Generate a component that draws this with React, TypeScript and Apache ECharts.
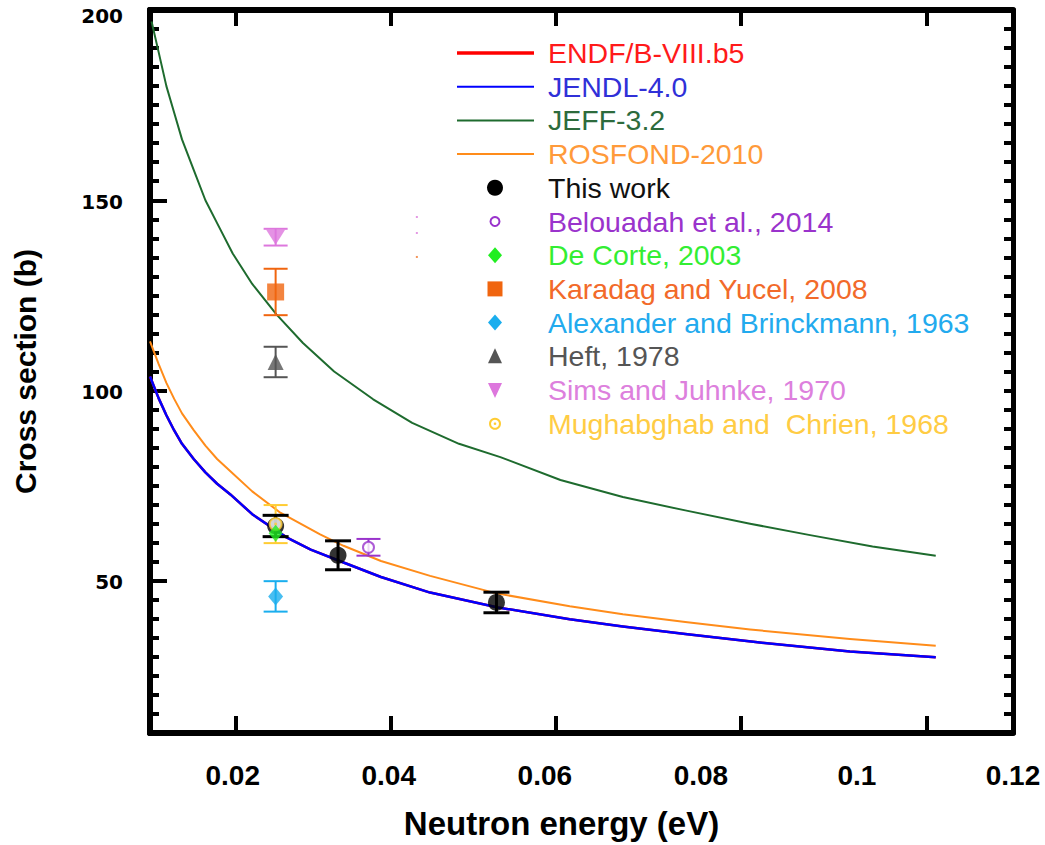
import React, { useEffect, useRef } from "react";
import * as echarts from "echarts";

// ---------- axis values ----------
const xMin = 0.0094;
const xMax = 0.12;
const yMin = 10;
const yMax = 200;
const xLabelValues = [0.02, 0.04, 0.06, 0.08, 0.1, 0.12];
const xTickValues = [0.0204, 0.0402, 0.0614, 0.0851, 0.1089];
const yLabelValues = [50, 100, 150, 200];
const yMajorTickValues = [50, 100, 150];

// ---------- evaluated libraries (curves) ----------
const endfEnergy = [0.0094, 0.0105, 0.0115, 0.0125, 0.0135, 0.015, 0.0165, 0.018, 0.0197, 0.0225, 0.0269, 0.03, 0.0342, 0.039, 0.0453, 0.054, 0.0632, 0.07, 0.078, 0.087, 0.0991, 0.1101];
const endfSigma = [103.7, 98, 93.5, 89.5, 86, 82, 78.5, 75.5, 72.7, 67.5, 61.4, 58.2, 54.8, 51, 46.9, 43.0, 39.9, 38, 36, 33.9, 31.4, 29.9];

const jendlEnergy = [0.0094, 0.0105, 0.0115, 0.0125, 0.0135, 0.015, 0.0165, 0.018, 0.0197, 0.0225, 0.0269, 0.03, 0.0342, 0.039, 0.0453, 0.054, 0.0632, 0.07, 0.078, 0.087, 0.0991, 0.1101];
const jendlSigma = [103.7, 98, 93.5, 89.5, 86, 82, 78.5, 75.5, 72.7, 67.5, 61.4, 58.2, 54.8, 51, 46.9, 43.0, 39.9, 38, 36, 33.9, 31.4, 29.9];

const jeffEnergy = [0.0096, 0.0105, 0.0115, 0.0125, 0.0135, 0.015, 0.0165, 0.018, 0.02, 0.0225, 0.0256, 0.029, 0.033, 0.038, 0.043, 0.049, 0.0543, 0.062, 0.07, 0.078, 0.0863, 0.094, 0.102, 0.1101];
const jeffSigma = [197, 189, 180, 173, 166, 158, 150, 144, 136, 128, 120, 112.5, 105, 97.7, 91.5, 86, 82.5, 76.5, 72, 68.5, 65, 62, 59, 56.6];

const rosfondEnergy = [0.0094, 0.0105, 0.0115, 0.0125, 0.0135, 0.015, 0.0165, 0.018, 0.0197, 0.0225, 0.0261, 0.0312, 0.0342, 0.039, 0.0453, 0.0538, 0.0632, 0.07, 0.078, 0.0863, 0.0991, 0.1101];
const rosfondSigma = [112.9, 107, 102, 97.8, 94, 89.6, 85.5, 82, 78.8, 73.5, 67.9, 62.2, 59.2, 55.2, 51.3, 46.7, 43.3, 41.2, 39.2, 37.2, 34.7, 32.9];

// ---------- measurements ----------
const thisWorkEnergy = [0.0255, 0.0335, 0.0538];
const thisWorkSigma = [64.4, 56.7, 44.3];
const thisWorkErr = [2.8, 3.8, 2.7];

const belouadahEnergy = [0.0374];
const belouadahSigma = [58.8];
const belouadahErr = [2.2];

const deCorteEnergy = [0.0255];
const deCorteSigma = [62.5];

const karadagEnergy = [0.0255];
const karadagSigma = [125.9];
const karadagErr = [6.1];

const alexanderEnergy = [0.0255];
const alexanderSigma = [45.9];
const alexanderErr = [4.0];

const heftEnergy = [0.0255];
const heftSigma = [107.5];
const heftErr = [4.0];

const simsEnergy = [0.0255];
const simsSigma = [140.3];
const simsErr = [2.2];

const mughEnergy = [0.0255];
const mughSigma = [64.9];
const mughErr = [5.0];

// stray dots visible in the figure
const strayEnergy = [0.0436, 0.0436, 0.0436];
const straySigma = [145.6, 141.4, 135.1];
const strayColors = ["#dd80dd", "#dd80dd", "#f07a30"];

// ---------- legend ----------
const legendNames = [
  "ENDF/B-VIII.b5",
  "JENDL-4.0",
  "JEFF-3.2",
  "ROSFOND-2010",
  "This work",
  "Belouadah et al., 2014",
  "De Corte, 2003",
  "Karadag and Yucel, 2008",
  "Alexander and Brinckmann, 1963",
  "Heft, 1978",
  "Sims and Juhnke, 1970",
  "Mughabghab and  Chrien, 1968",
];
const legendTextColors = [
  "#ff1a1a", "#3030d8", "#2d6b3c", "#ff9a3a", "#111111", "#9a33cc",
  "#33ee33", "#f26a2a", "#22aaee", "#555555", "#dd80dd", "#ffcc44",
];
const legendKinds = [
  "line", "line", "line", "line", "dot", "ring",
  "diamond", "square", "diamond", "triangle", "invtriangle", "ringdot",
];

const C = {
  endf: "#ff0000",
  jendl: "#0000ff",
  jeff: "#1e6b2e",
  rosfond: "#ff8c1a",
  thisWork: "#000000",
  belouadah: "#9933cc",
  deCorte: "#22ee22",
  karadag: "#f0650f",
  alexander: "#1aaeee",
  heft: "#555555",
  sims: "#dd77dd",
  mugh: "#ffcc33",
};
const legendLineColors = [C.endf, C.jendl, C.jeff, C.rosfond];
const legendLineWidths = [3.5, 2, 2, 2];
const legendSymbolColors = [
  "", "", "", "", C.thisWork, C.belouadah, C.deCorte, C.karadag, C.alexander, C.heft, C.sims, C.mugh,
];

const zip = (a: number[], b: number[]) => a.map((v, i) => [v, b[i]]);
const zipErr = (a: number[], s: number[], e: number[]) => a.map((v, i) => [v, s[i] - e[i], s[i] + e[i]]);

function lineSeries(name: string, e: number[], s: number[], color: string, width: number) {
  return {
    name,
    type: "line",
    data: zip(e, s),
    xAxisIndex: 0,
    yAxisIndex: 0,
    symbol: "none",
    smooth: false,
    lineStyle: { color, width, join: "round" },
    z: 2,
  };
}

function errorSeries(name: string, e: number[], s: number[], err: number[], color: string, width: number, half: number) {
  return {
    name: name + " err",
    type: "custom",
    xAxisIndex: 0,
    yAxisIndex: 0,
    data: zipErr(e, s, err),
    encode: { x: 0, y: [1, 2] },
    z: 3,
    renderItem: (params: any, api: any) => {
      const x = api.value(0);
      const lo = api.coord([x, api.value(1)]);
      const hi = api.coord([x, api.value(2)]);
      const style = { stroke: color, lineWidth: width, fill: "none" };
      return {
        type: "group",
        children: [
          { type: "line", shape: { x1: lo[0], y1: lo[1], x2: hi[0], y2: hi[1] }, style },
          { type: "line", shape: { x1: lo[0] - half, y1: lo[1], x2: lo[0] + half, y2: lo[1] }, style },
          { type: "line", shape: { x1: hi[0] - half, y1: hi[1], x2: hi[0] + half, y2: hi[1] }, style },
        ],
      };
    },
  };
}

function scatterSeries(name: string, e: number[], s: number[], symbol: string, size: any, itemStyle: any, z = 4) {
  return {
    name,
    type: "scatter",
    xAxisIndex: 0,
    yAxisIndex: 0,
    data: zip(e, s),
    symbol,
    symbolSize: size,
    itemStyle,
    z,
  };
}

function buildLegend() {
  const y0 = 53;
  const gap = 33.7;
  const lineX1 = 457;
  const lineX2 = 534;
  const symX = 495;
  const textX = 548;
  const els: any[] = [];
  legendNames.forEach((name, i) => {
    const y = y0 + i * gap;
    const kind = legendKinds[i];
    const col = legendSymbolColors[i];
    if (kind === "line") {
      els.push({
        type: "line",
        shape: { x1: lineX1, y1: y, x2: lineX2, y2: y },
        style: { stroke: legendLineColors[i], lineWidth: legendLineWidths[i] },
      });
    } else if (kind === "dot") {
      els.push({ type: "circle", shape: { cx: symX, cy: y, r: 8 }, style: { fill: col } });
    } else if (kind === "ring") {
      els.push({ type: "circle", shape: { cx: symX, cy: y, r: 4.5 }, style: { fill: "#fff", stroke: col, lineWidth: 2 } });
    } else if (kind === "ringdot") {
      els.push({ type: "circle", shape: { cx: symX, cy: y, r: 5 }, style: { fill: "#fff", stroke: col, lineWidth: 2 } });
      els.push({ type: "circle", shape: { cx: symX, cy: y, r: 1.3 }, style: { fill: col } });
    } else if (kind === "diamond") {
      els.push({
        type: "polygon",
        shape: { points: [[symX, y - 8], [symX + 7, y], [symX, y + 8], [symX - 7, y]] },
        style: { fill: col },
      });
    } else if (kind === "square") {
      els.push({ type: "rect", shape: { x: symX - 7.5, y: y - 7.5, width: 15, height: 15 }, style: { fill: col } });
    } else if (kind === "triangle") {
      els.push({
        type: "polygon",
        shape: { points: [[symX, y - 8], [symX + 7, y + 7], [symX - 7, y + 7]] },
        style: { fill: col },
      });
    } else if (kind === "invtriangle") {
      els.push({
        type: "polygon",
        shape: { points: [[symX - 7, y - 7], [symX + 7, y - 7], [symX, y + 8]] },
        style: { fill: col },
      });
    }
    els.push({
      type: "text",
      x: textX,
      y,
      style: {
        text: name,
        fill: legendTextColors[i],
        fontSize: 28.5,
        fontFamily: "'Liberation Sans', Arial, sans-serif",
        verticalAlign: "middle",
        align: "left",
      },
    });
  });
  return els;
}

export default function App() {
  const ref = useRef<HTMLDivElement>(null);

  useEffect(() => {
    if (!ref.current) return;
    const chart = echarts.init(ref.current, null, { renderer: "svg" });

    const frame = { show: true, onZero: false, lineStyle: { color: "#000", width: 6 } };
    const tickStyle = { color: "#000", width: 4 };
    const yLabelFont = {
      color: "#000",
      fontSize: 20,
      fontWeight: "bold",
      fontFamily: "'DejaVu Sans', sans-serif",
    };

    const option: any = {
      animation: false,
      backgroundColor: "#ffffff",
      grid: { left: 150, right: 32, top: 10, bottom: 111, containLabel: false },
      xAxis: [
        {
          type: "value",
          min: xMin,
          max: xMax,
          position: "bottom",
          axisLine: frame,
          axisTick: { show: true, inside: true, length: 17, lineStyle: tickStyle, customValues: xTickValues },
          axisLabel: {
            show: true,
            customValues: xLabelValues,
            formatter: (v: number) => String(parseFloat(Number(v).toFixed(4))),
            margin: 28,
            color: "#000",
            fontSize: 28,
            fontWeight: "bold",
            fontFamily: "'Liberation Sans Narrow', 'Liberation Sans', Arial, sans-serif",
          },
          splitLine: { show: false },
          name: "Neutron energy (eV)",
          nameLocation: "middle",
          nameGap: 74,
          nameTextStyle: {
            color: "#000",
            fontSize: 33,
            fontWeight: "bold",
            fontFamily: "'Liberation Sans Narrow', 'Liberation Sans', Arial, sans-serif",
            padding: [0, 40, 0, 0],
          },
        },
        {
          type: "value",
          min: xMin,
          max: xMax,
          position: "top",
          axisLine: frame,
          axisTick: { show: true, inside: true, length: 16, lineStyle: tickStyle, customValues: xTickValues },
          axisLabel: { show: false },
          splitLine: { show: false },
        },
      ],
      yAxis: [
        {
          type: "value",
          min: yMin,
          max: yMax,
          interval: 5,
          position: "left",
          axisLine: frame,
          axisTick: { show: true, inside: true, length: 9, lineStyle: tickStyle },
          axisLabel: { show: false },
          splitLine: { show: false },
        },
        {
          type: "value",
          min: yMin,
          max: yMax,
          position: "left",
          axisLine: frame,
          axisTick: { show: true, inside: true, length: 17, lineStyle: tickStyle, customValues: yMajorTickValues },
          axisLabel: {
            show: true,
            customValues: yLabelValues,
            margin: 27,
            ...yLabelFont,
            formatter: (v: number) => (v >= yMax ? "{top|" + v + "}" : "{n|" + v + "}"),
            rich: {
              n: { ...yLabelFont, padding: [3, 0, 0, 0] },
              top: { ...yLabelFont, padding: [12, 0, 0, 0] },
            },
          },
          splitLine: { show: false },
          name: "Cross section (b)",
          nameLocation: "middle",
          nameGap: 110,
          nameTextStyle: {
            color: "#000",
            fontSize: 30,
            fontWeight: "bold",
            fontFamily: "'Liberation Sans', Arial, sans-serif",
          },
        },
        {
          type: "value",
          min: yMin,
          max: yMax,
          interval: 5,
          position: "right",
          axisLine: { show: true, onZero: false, lineStyle: { color: "#000", width: 5 } },
          axisTick: { show: true, inside: true, length: 9, lineStyle: tickStyle },
          axisLabel: { show: false },
          splitLine: { show: false },
        },
      ],
      series: [
        lineSeries("ENDF/B-VIII.b5", endfEnergy, endfSigma, C.endf, 2.5),
        lineSeries("JENDL-4.0", jendlEnergy, jendlSigma, C.jendl, 2.5),
        lineSeries("JEFF-3.2", jeffEnergy, jeffSigma, C.jeff, 2),
        lineSeries("ROSFOND-2010", rosfondEnergy, rosfondSigma, C.rosfond, 2),
        errorSeries("Mughabghab", mughEnergy, mughSigma, mughErr, C.mugh, 2, 12),
        errorSeries("Karadag", karadagEnergy, karadagSigma, karadagErr, C.karadag, 2, 12),
        errorSeries("Alexander", alexanderEnergy, alexanderSigma, alexanderErr, C.alexander, 2, 12),
        errorSeries("Heft", heftEnergy, heftSigma, heftErr, C.heft, 2, 12),
        errorSeries("Sims", simsEnergy, simsSigma, simsErr, C.sims, 2, 12),
        errorSeries("Belouadah", belouadahEnergy, belouadahSigma, belouadahErr, C.belouadah, 2, 12),
        errorSeries("This work", thisWorkEnergy, thisWorkSigma, thisWorkErr, C.thisWork, 3, 13),
        scatterSeries("This work", thisWorkEnergy, thisWorkSigma, "circle", 17, { color: C.thisWork }),
        scatterSeries("Mughabghab and  Chrien, 1968", mughEnergy, mughSigma, "emptyCircle", 12, { color: C.mugh, borderWidth: 2, borderColor: C.mugh }, 5),
        scatterSeries("Mughabghab dot", mughEnergy, mughSigma, "circle", 3, { color: C.mugh }, 5),
        scatterSeries("De Corte, 2003", deCorteEnergy, deCorteSigma, "diamond", [14, 17], { color: C.deCorte }, 6),
        scatterSeries("Belouadah et al., 2014", belouadahEnergy, belouadahSigma, "emptyCircle", 11, { color: C.belouadah, borderWidth: 2, borderColor: C.belouadah }),
        scatterSeries("Karadag and Yucel, 2008", karadagEnergy, karadagSigma, "rect", 17, { color: C.karadag }),
        scatterSeries("Alexander and Brinckmann, 1963", alexanderEnergy, alexanderSigma, "diamond", [15, 18], { color: C.alexander }),
        scatterSeries("Heft, 1978", heftEnergy, heftSigma, "triangle", [16, 16], { color: C.heft }),
        scatterSeries("Sims and Juhnke, 1970", simsEnergy, simsSigma, "path://M0,0 L20,0 L10,18 Z", [19, 15], { color: C.sims }),
        {
          name: "stray",
          type: "scatter",
          data: zip(strayEnergy, straySigma),
          symbol: "rect",
          symbolSize: 2,
          itemStyle: { color: (p: any) => strayColors[p.dataIndex] },
          z: 1,
        },
      ],
      graphic: buildLegend(),
    };

    chart.setOption(option);
    return () => chart.dispose();
  }, []);

  return (
    <div
      ref={ref}
      style={{ position: "fixed", left: 0, top: 0, width: 1045, height: 845, background: "#fff" }}
    />
  );
}
